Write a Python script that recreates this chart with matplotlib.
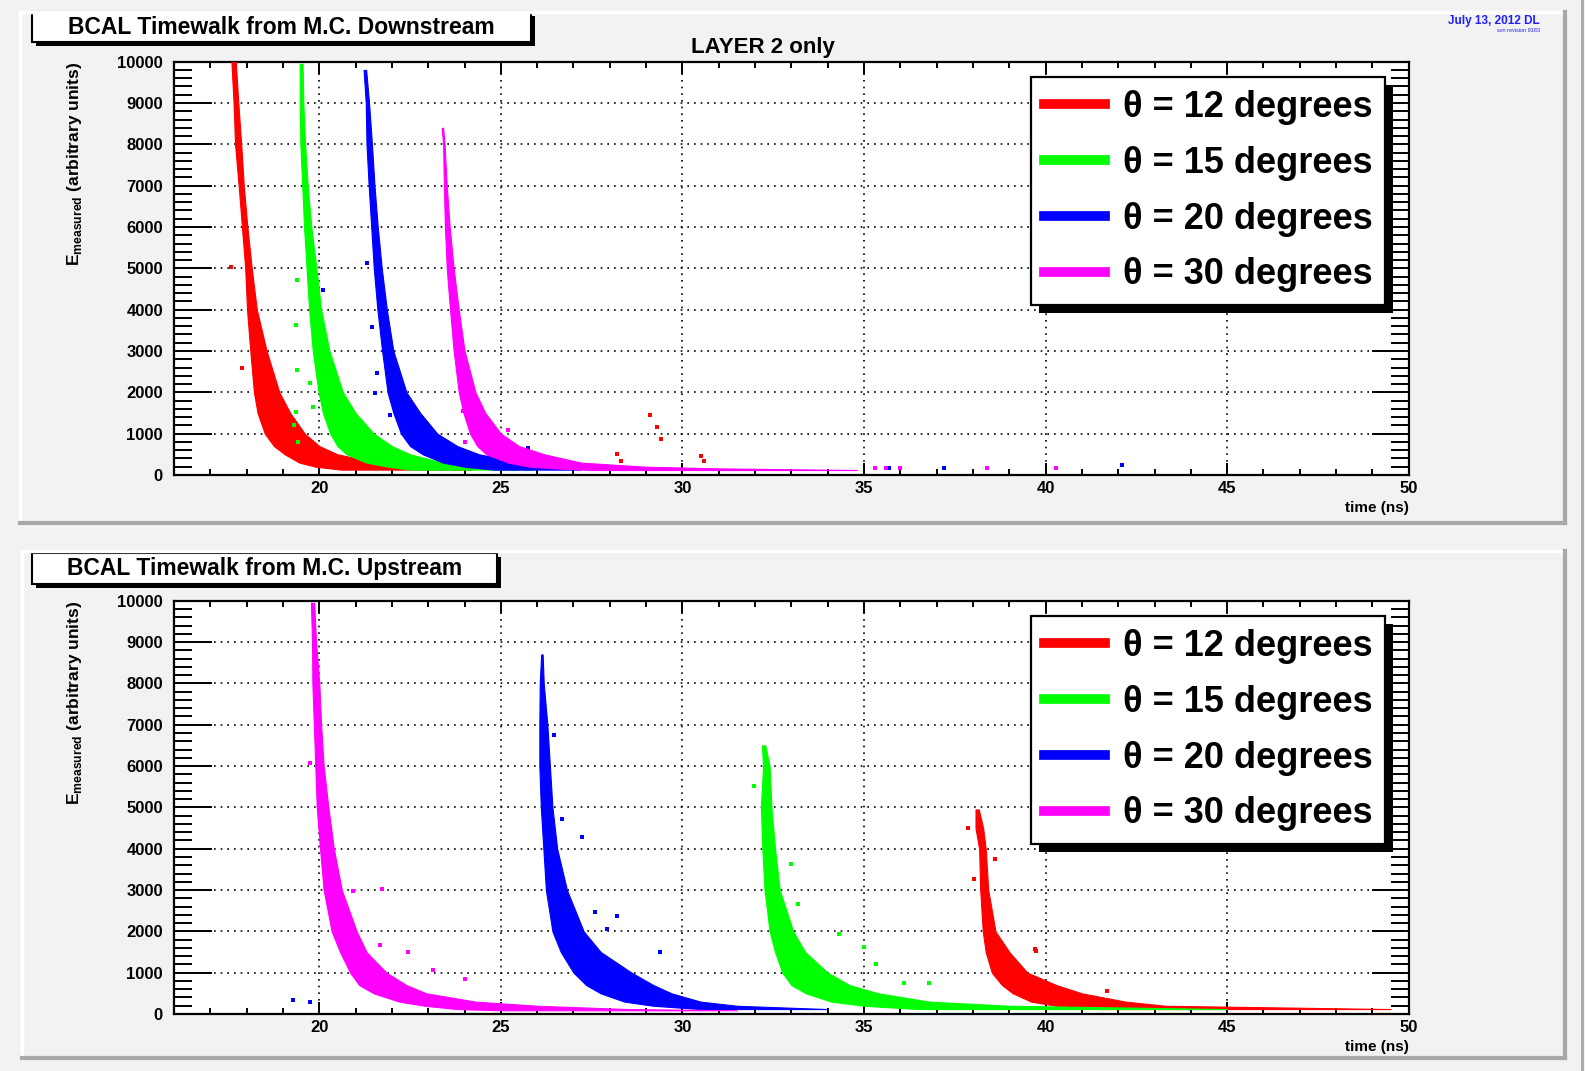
import matplotlib
matplotlib.use("Agg")
import matplotlib.pyplot as plt
from matplotlib.patches import Rectangle
from matplotlib.lines import Line2D
from matplotlib.ticker import MultipleLocator

plt.rcParams['font.family'] = ['Liberation Sans', 'DejaVu Sans']
plt.rcParams['mathtext.fontset'] = 'custom'
plt.rcParams['mathtext.rm'] = 'Liberation Sans:bold'
plt.rcParams['mathtext.bf'] = 'Liberation Sans:bold'

W, H = 1585, 1071

# ---- data: (energy level, left edge, right edge of the dense band)
angles = ["12", "15", "20", "30"]
colors = ["#ff0000", "#00ff00", "#0000ff", "#ff00ff"]

# Downstream
ds12_E = [10000, 9000, 8000, 7000, 6000, 5000, 4000, 3000, 2000, 1500, 1000, 700, 500, 300, 200, 130]
ds12_lo = [17.58, 17.64, 17.68, 17.78, 17.87, 17.96, 18.01, 18.10, 18.20, 18.30, 18.50, 18.75, 19.05, 19.45, 19.90, 20.60]
ds12_hi = [17.70, 17.77, 17.85, 17.92, 18.02, 18.14, 18.28, 18.55, 18.90, 19.20, 19.60, 20.00, 20.50, 21.60, 23.30, 24.20]

ds15_E = [9950, 9000, 8000, 7000, 6000, 5000, 4000, 3000, 2000, 1500, 1000, 700, 500, 300, 200, 130]
ds15_lo = [19.46, 19.46, 19.48, 19.53, 19.58, 19.65, 19.72, 19.82, 19.98, 20.10, 20.30, 20.50, 20.75, 21.30, 21.90, 22.50]
ds15_hi = [19.54, 19.56, 19.61, 19.68, 19.78, 19.92, 20.05, 20.28, 20.65, 21.00, 21.50, 22.00, 22.50, 23.40, 24.80, 25.90]

ds20_E = [9800, 9000, 8000, 7000, 6000, 5000, 4000, 3000, 2000, 1500, 1000, 700, 500, 300, 200, 130]
ds20_lo = [21.22, 21.28, 21.30, 21.36, 21.43, 21.50, 21.60, 21.73, 21.88, 22.04, 22.25, 22.50, 22.85, 23.40, 24.00, 24.80]
ds20_hi = [21.29, 21.37, 21.45, 21.52, 21.61, 21.72, 21.86, 22.04, 22.40, 22.78, 23.25, 23.80, 24.40, 25.60, 26.50, 27.20]

ds30_E = [8400, 8000, 7000, 6000, 5000, 4000, 3000, 2000, 1500, 1000, 700, 500, 300, 200, 160, 120]
ds30_lo = [23.37, 23.41, 23.43, 23.46, 23.51, 23.60, 23.70, 23.84, 23.97, 24.15, 24.35, 24.60, 25.20, 25.80, 26.50, 27.50]
ds30_hi = [23.41, 23.45, 23.51, 23.59, 23.70, 23.84, 24.00, 24.30, 24.57, 25.00, 25.50, 26.20, 27.20, 29.00, 31.00, 34.80]

# Upstream
us12_E = [4950, 4500, 4000, 3000, 2000, 1500, 1000, 700, 500, 300, 200, 120]
us12_lo = [38.07, 38.07, 38.17, 38.20, 38.27, 38.35, 38.52, 38.80, 39.10, 39.60, 40.30, 41.50]
us12_hi = [38.16, 38.28, 38.35, 38.42, 38.62, 39.00, 39.50, 40.30, 41.00, 42.20, 43.30, 49.50]

us15_E = [6500, 6000, 5000, 4000, 3000, 2000, 1500, 1000, 700, 500, 300, 200, 120]
us15_lo = [32.19, 32.22, 32.16, 32.20, 32.26, 32.40, 32.55, 32.75, 33.00, 33.40, 34.10, 35.00, 36.50]
us15_hi = [32.28, 32.40, 32.45, 32.55, 32.68, 33.05, 33.38, 34.00, 34.60, 35.40, 36.80, 39.00, 45.00]

us20_E = [8700, 8000, 7000, 6000, 5000, 4000, 3000, 2000, 1500, 1000, 700, 500, 300, 200, 120]
us20_lo = [26.11, 26.07, 26.06, 26.06, 26.10, 26.17, 26.24, 26.42, 26.65, 27.00, 27.35, 27.75, 28.40, 29.20, 30.50]
us20_hi = [26.15, 26.18, 26.28, 26.35, 26.42, 26.55, 26.82, 27.28, 27.75, 28.60, 29.20, 29.70, 30.50, 31.50, 34.00]

us30_E = [9950, 9000, 8000, 7000, 6000, 5000, 4000, 3000, 2000, 1500, 1000, 700, 500, 300, 200, 120, 90]
us30_lo = [19.77, 19.80, 19.81, 19.85, 19.89, 19.93, 20.02, 20.12, 20.34, 20.57, 20.85, 21.10, 21.50, 22.20, 22.90, 23.80, 25.00]
us30_hi = [19.86, 19.91, 20.00, 20.05, 20.12, 20.25, 20.40, 20.62, 21.03, 21.30, 21.85, 22.40, 22.95, 24.30, 26.00, 28.50, 31.50]

# scattered points away from the bands
ds12_out_t = [29.1, 29.3, 29.4, 28.2, 28.3, 30.5, 30.6, 17.86, 17.58]
ds12_out_E = [1450, 1150, 870, 500, 350, 450, 350, 2580, 5040]
ds15_out_t = [19.36, 19.38, 19.38, 19.36, 19.83, 19.74, 20.39, 19.30, 19.42]
ds15_out_E = [3630, 4720, 2540, 1530, 1650, 2220, 1010, 1200, 800]
ds20_out_t = [21.30, 20.10, 21.44, 21.58, 21.53, 21.95, 25.76, 22.40, 35.7, 37.2, 42.1]
ds20_out_E = [5120, 4475, 3590, 2460, 1975, 1450, 645, 1410, 160, 160, 250]
ds30_out_t = [24.0, 24.5, 25.2, 35.3, 35.6, 36.0, 38.4, 40.3, 23.95, 24.4]
ds30_out_E = [806, 927, 1090, 160, 160, 160, 180, 170, 1557, 980]
us12_out_t = [37.85, 38.62, 38.03, 39.70, 39.74, 41.70]
us12_out_E = [4510, 3740, 3260, 1580, 1530, 565]
us15_out_t = [33.0, 33.19, 34.32, 35.0, 35.32, 36.1, 36.8, 31.97]
us15_out_E = [3620, 2660, 1940, 1620, 1220, 740, 740, 5510]
us20_out_t = [27.23, 26.68, 26.45, 27.6, 28.2, 29.37, 27.93, 19.28, 19.74]
us20_out_E = [4290, 4710, 6750, 2460, 2380, 1500, 2060, 335, 295]
us30_out_t = [21.72, 20.93, 21.67, 22.45, 23.14, 19.74, 24.0]
us30_out_E = [3020, 2980, 1660, 1500, 1055, 6070, 855]

downstream = [(ds12_E, ds12_lo, ds12_hi, ds12_out_t, ds12_out_E),
              (ds15_E, ds15_lo, ds15_hi, ds15_out_t, ds15_out_E),
              (ds20_E, ds20_lo, ds20_hi, ds20_out_t, ds20_out_E),
              (ds30_E, ds30_lo, ds30_hi, ds30_out_t, ds30_out_E)]
upstream = [(us12_E, us12_lo, us12_hi, us12_out_t, us12_out_E),
            (us15_E, us15_lo, us15_hi, us15_out_t, us15_out_E),
            (us20_E, us20_lo, us20_hi, us20_out_t, us20_out_E),
            (us30_E, us30_lo, us30_hi, us30_out_t, us30_out_E)]

fig = plt.figure(figsize=(W / 100, H / 100), dpi=100)
fig.patch.set_facecolor("#f2f2f2")


def fx(px):
    return px / W


def fy(py):
    return 1 - py / H


def bevel(x0, y0, x1, y1):
    # ROOT style pad border: light top/left, dark bottom/right
    fig.add_artist(Line2D([fx(x0), fx(x1)], [fy(y0), fy(y0)], color="white", lw=2.5))
    fig.add_artist(Line2D([fx(x0), fx(x0)], [fy(y0), fy(y1)], color="white", lw=2.5))
    fig.add_artist(Line2D([fx(x0), fx(x1)], [fy(y1), fy(y1)], color="#a8a8a8", lw=3))
    fig.add_artist(Line2D([fx(x1), fx(x1)], [fy(y0), fy(y1)], color="#a8a8a8", lw=3))


def title_box(x0, y0, x1, y1, text):
    fig.add_artist(Rectangle((fx(x0 + 4), fy(y1 + 4)), fx(x1 - x0), (y1 - y0) / H,
                             facecolor="black", edgecolor="none"))
    fig.add_artist(Rectangle((fx(x0), fy(y1)), fx(x1 - x0), (y1 - y0) / H,
                             facecolor="white", edgecolor="black", lw=1.5))
    fig.text(fx((x0 + x1) / 2), fy((y0 + y1) / 2), text, ha="center", va="center",
             fontsize=16.5, fontweight="bold")


bevel(20, 12, 1565, 523)
bevel(22, 551, 1565, 1058)
fig.add_artist(Line2D([fx(1582), fx(1582)], [0, 1], color="#a8a8a8", lw=2))


def draw_panel(ax, series):
    for (E, lo, hi, ot, oE), c in zip(series, colors):
        ax.fill_betweenx(E, lo, hi, color=c, lw=0.8, edgecolor=c, zorder=3)
        ax.scatter(ot, oE, s=5, marker="s", color=c, lw=0, zorder=3)
    ax.set_xlim(16, 50)
    ax.set_ylim(0, 10000)
    ax.xaxis.set_major_locator(MultipleLocator(5))
    ax.xaxis.set_minor_locator(MultipleLocator(1))
    ax.yaxis.set_major_locator(MultipleLocator(1000))
    ax.yaxis.set_minor_locator(MultipleLocator(200))
    ax.tick_params(axis="x", which="major", direction="in", length=8.5, width=1.4,
                   top=True, pad=4, labelsize=12)
    ax.tick_params(axis="x", which="minor", direction="in", length=4.3, width=1.4, top=True)
    ax.tick_params(axis="y", which="major", direction="in", length=27, width=1.4,
                   right=True, pad=8, labelsize=12)
    ax.tick_params(axis="y", which="minor", direction="in", length=13, width=1.4, right=True)
    for lab in ax.get_xticklabels() + ax.get_yticklabels():
        lab.set_fontweight("bold")
    ax.grid(True, which="major", color="black", linestyle=(0, (1, 3)), lw=1.2, zorder=1)
    ax.set_axisbelow(True)
    for s in ax.spines.values():
        s.set_linewidth(1.6)
    ax.set_xlabel("time (ns)", fontsize=11, fontweight="bold", loc="right", labelpad=4)
    ax.set_ylabel(r"E$_{\rm measured}$ (arbitrary units)", fontsize=12.5, fontweight="bold",
                  loc="top", labelpad=24)
    handles = [Line2D([], [], color=c, lw=7) for c in colors]
    labels = ["\u03b8 = %s degrees" % a for a in angles]
    leg = ax.legend(handles, labels, loc="upper left", bbox_to_anchor=(0.694, 0.963),
                    fontsize=26, frameon=True, fancybox=False, edgecolor="black",
                    framealpha=1, borderpad=0.35, labelspacing=0.58, handlelength=1.7,
                    handletextpad=0.5, borderaxespad=0)
    leg.get_frame().set_linewidth(1.6)
    for t in leg.get_texts():
        t.set_fontweight("bold")
    leg.set_zorder(6)
    return leg


ax1 = fig.add_axes([0.1098, 0.5565, 0.779, 0.3859])
ax2 = fig.add_axes([0.1098, 0.0532, 0.779, 0.3859])
legs = [draw_panel(ax1, downstream), draw_panel(ax2, upstream)]

title_box(32, 12, 531, 42, "BCAL Timewalk from M.C. Downstream")
title_box(32, 553, 497, 584, "BCAL Timewalk from M.C. Upstream")
fig.text(fx(763), fy(47), "LAYER 2 only", ha="center", va="center", fontsize=16, fontweight="bold")
fig.text(fx(1540), fy(21), "July 13, 2012 DL", ha="right", va="center", fontsize=8.5,
         fontweight="bold", color="#2020ff")
fig.text(fx(1540), fy(31), "svn revision 9183", ha="right", va="center", fontsize=4,
         color="#2020ff")

# black drop shadow behind each legend, as in ROOT
fig.canvas.draw()
for ax, leg in zip([ax1, ax2], legs):
    bb = leg.get_window_extent()
    inv = ax.transAxes.inverted()
    (x0, y0), (x1, y1) = inv.transform([(bb.x0 + 8, bb.y0 - 8), (bb.x1 + 8, bb.y1 - 8)])
    ax.add_patch(Rectangle((x0, y0), x1 - x0, y1 - y0, transform=ax.transAxes,
                           facecolor="black", edgecolor="none", zorder=5.5, clip_on=False))

fig.savefig("out.png", dpi=100, facecolor=fig.get_facecolor())
